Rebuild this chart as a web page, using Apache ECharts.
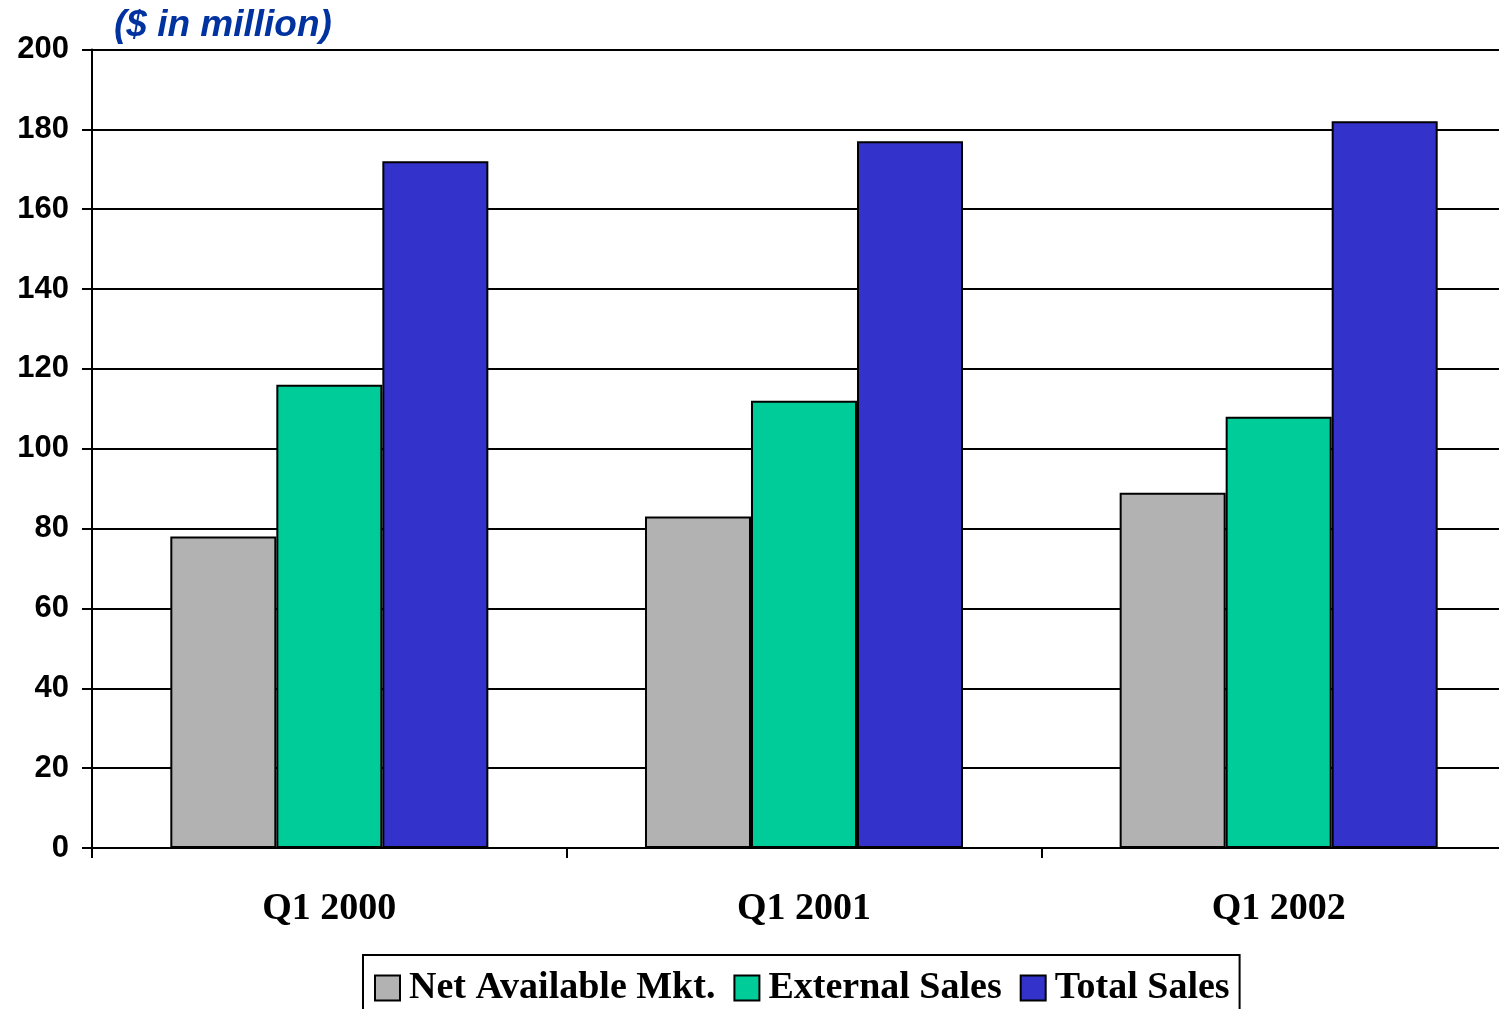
<!DOCTYPE html>
<html>
<head>
<meta charset="utf-8">
<script src="https://cdn.jsdelivr.net/npm/echarts@6/dist/echarts.min.js"></script>
<style>
  html, body { margin: 0; padding: 0; background: #ffffff; }
  #chart { width: 1499px; height: 1009px; }
</style>
</head>
<body>
<div id="chart"></div>
<script>
// Quarterly figures, $ in million
const quarters = ['Q1 2000', 'Q1 2001', 'Q1 2002'];
const netAvailableMkt = [78, 83, 89];
const externalSales = [116, 112, 108];
const totalSales = [172, 177, 182];
const yTicks = { min: 0, max: 200, interval: 20 };

const seriesDefs = [
  { name: 'Net Available Mkt.', data: netAvailableMkt, color: '#b2b2b2' },
  { name: 'External Sales', data: externalSales, color: '#00cc99' },
  { name: 'Total Sales', data: totalSales, color: '#3333cc' }
];

const chart = echarts.init(document.getElementById('chart'), null, { renderer: 'canvas' });

chart.setOption({
  animation: false,
  backgroundColor: '#ffffff',
  title: {
    text: '($ in million)',
    left: 109,
    top: 2,
    textStyle: {
      fontFamily: 'Liberation Sans, Arial, sans-serif',
      fontStyle: 'italic',
      fontWeight: 'bold',
      fontSize: 37,
      color: '#0033a0'
    }
  },
  legend: {
    left: 363,
    top: 955,
    orient: 'horizontal',
    itemWidth: 25,
    itemHeight: 25,
    itemGap: 18,
    padding: [14, 10, 30, 11],
    borderColor: '#000000',
    borderWidth: 2,
    icon: 'rect',
    textStyle: {
      fontFamily: 'Liberation Serif, Times New Roman, serif',
      fontWeight: 'bold',
      fontSize: 38,
      color: '#000000',
      padding: [0, 0, 0, 4]
    },
    data: seriesDefs.map(s => s.name)
  },
  grid: {
    left: 92,
    width: 1424,
    top: 49.5,
    bottom: 161,
    outerBoundsMode: 'none'
  },
  xAxis: {
    type: 'category',
    data: quarters,
    boundaryGap: true,
    axisLine: { show: true, lineStyle: { color: '#000000', width: 2 } },
    axisTick: { show: true, length: 10, lineStyle: { color: '#000000', width: 2 } },
    axisLabel: {
      margin: 42,
      fontFamily: 'Liberation Serif, Times New Roman, serif',
      fontWeight: 'bold',
      fontSize: 38,
      color: '#000000'
    },
    splitLine: { show: false }
  },
  yAxis: {
    type: 'value',
    min: yTicks.min,
    max: yTicks.max,
    interval: yTicks.interval,
    axisLine: { show: true, lineStyle: { color: '#000000', width: 2 } },
    axisTick: { show: true, length: 10, lineStyle: { color: '#000000', width: 2 } },
    axisLabel: {
      margin: 23,
      fontFamily: 'Liberation Sans, Arial, sans-serif',
      fontWeight: 'bold',
      fontSize: 31,
      color: '#000000'
    },
    splitLine: { show: true, lineStyle: { color: '#000000', width: 2 } }
  },
  series: seriesDefs.map(s => ({
    name: s.name,
    type: 'bar',
    data: s.data,
    barGap: '0%',
    barCategoryGap: '33%',
    itemStyle: { color: s.color, borderColor: '#000000', borderWidth: 2 }
  }))
});
</script>
</body>
</html>
